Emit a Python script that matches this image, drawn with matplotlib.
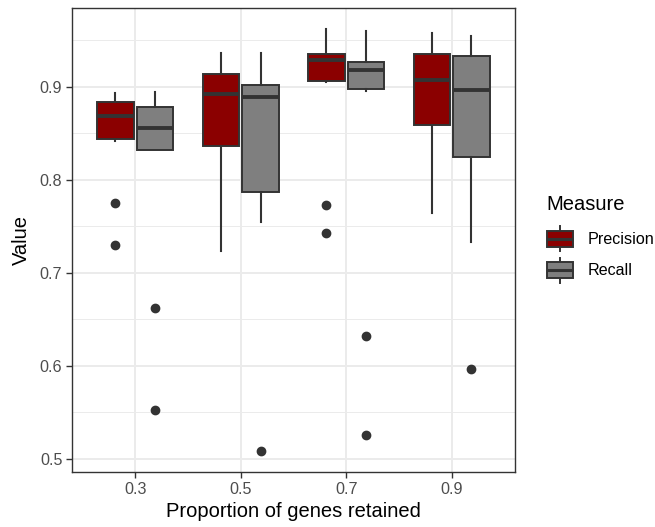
import matplotlib
matplotlib.use('Agg')
import matplotlib.pyplot as plt
from matplotlib.legend_handler import HandlerBase
from matplotlib.patches import Rectangle, Patch
from matplotlib.lines import Line2D

plt.rcParams['font.family'] = ['Liberation Sans', 'DejaVu Sans']

# data
proportions = ['0.3', '0.5', '0.7', '0.9']
measures = ['Precision', 'Recall']
colours = ['#8B0000', '#7F7F7F']

prec_whislo = [0.842, 0.724, 0.905, 0.764]
prec_q1 = [0.844, 0.836, 0.906, 0.859]
prec_med = [0.869, 0.892, 0.929, 0.907]
prec_q3 = [0.884, 0.914, 0.935, 0.935]
prec_whishi = [0.894, 0.936, 0.962, 0.958]
prec_fliers = [[0.775, 0.730], [], [0.773, 0.743], []]

rec_whislo = [0.832, 0.755, 0.896, 0.733]
rec_q1 = [0.832, 0.787, 0.898, 0.825]
rec_med = [0.856, 0.889, 0.918, 0.897]
rec_q3 = [0.878, 0.902, 0.927, 0.933]
rec_whishi = [0.895, 0.936, 0.960, 0.955]
rec_fliers = [[0.662, 0.552], [0.508], [0.632, 0.525], [0.597]]

series = [
    (prec_whislo, prec_q1, prec_med, prec_q3, prec_whishi, prec_fliers),
    (rec_whislo, rec_q1, rec_med, rec_q3, rec_whishi, rec_fliers),
]

edge = '#333333'

fig = plt.figure(figsize=(6.55, 5.27), dpi=100)
ax = fig.add_axes([0.1099, 0.1044, 0.6763, 0.8805])

offsets = [-0.1875, 0.1875]
for k, (lo, q1, med, q3, hi, fl) in enumerate(series):
    stats = []
    for i in range(len(proportions)):
        stats.append({'whislo': lo[i], 'q1': q1[i], 'med': med[i],
                      'q3': q3[i], 'whishi': hi[i], 'fliers': fl[i]})
    pos = [i + 1 + offsets[k] for i in range(len(proportions))]
    ax.bxp(stats, positions=pos, widths=0.345, patch_artist=True,
           showcaps=False,
           boxprops=dict(facecolor=colours[k], edgecolor=edge, linewidth=1.4),
           medianprops=dict(color=edge, linewidth=2.8, solid_capstyle='butt'),
           whiskerprops=dict(color=edge, linewidth=1.5),
           flierprops=dict(marker='o', markerfacecolor=edge, markeredgecolor=edge,
                           markersize=6),
           zorder=3)

ax.set_xlim(0.4, 4.6)
ax.set_ylim(0.4857, 0.985)
ax.set_xticks(range(1, len(proportions) + 1))
ax.set_xticklabels(proportions)
ax.set_yticks([0.5, 0.6, 0.7, 0.8, 0.9])
ax.set_yticklabels(['0.5', '0.6', '0.7', '0.8', '0.9'])
ax.set_yticks([0.55, 0.65, 0.75, 0.85, 0.95], minor=True)

ax.set_axisbelow(True)
ax.grid(which='major', color='#EBEBEB', linewidth=1.4)
ax.grid(which='minor', axis='y', color='#EBEBEB', linewidth=0.7)
ax.tick_params(which='major', length=4, width=1.0, color=edge,
               labelsize=11.6, labelcolor='#4D4D4D', pad=3)
ax.tick_params(which='minor', length=0)
for s in ax.spines.values():
    s.set_color(edge)
    s.set_linewidth(1.0)

ax.set_xlabel('Proportion of genes retained', fontsize=14.5, labelpad=4)
ax.set_ylabel('Value', fontsize=14.5, labelpad=6)


class BoxKey(HandlerBase):
    def create_artists(self, legend, orig_handle, xdescent, ydescent,
                       width, height, fontsize, trans):
        x0, y0 = -xdescent, -ydescent
        fc = orig_handle.get_facecolor()
        cx = x0 + width / 2
        w1 = Line2D([cx, cx], [y0 + 0.1 * height, y0 + 0.9 * height],
                    color=edge, lw=1.4, transform=trans)
        box = Rectangle((x0 + 0.04 * width, y0 + 0.25 * height), 0.92 * width,
                        0.5 * height, facecolor=fc, edgecolor=edge, lw=1.4,
                        transform=trans)
        m = Line2D([x0 + 0.04 * width, x0 + 0.96 * width],
                   [y0 + 0.5 * height] * 2, color=edge, lw=2.2,
                   solid_capstyle='butt', transform=trans)
        return [w1, box, m]


handles = [Patch(facecolor=c) for c in colours]
leg = ax.legend(handles, measures, handler_map={Patch: BoxKey()},
                loc='center left', bbox_to_anchor=(0.834, 0.543),
                bbox_transform=fig.transFigure, frameon=False,
                title='Measure', title_fontsize=14.5, fontsize=11.6,
                handlelength=1.75, handleheight=2.65, labelspacing=0.0,
                handletextpad=0.8, borderpad=0, borderaxespad=0,
                alignment='left')
leg._legend_box.sep = 6

fig.savefig('out.png', dpi=100)
